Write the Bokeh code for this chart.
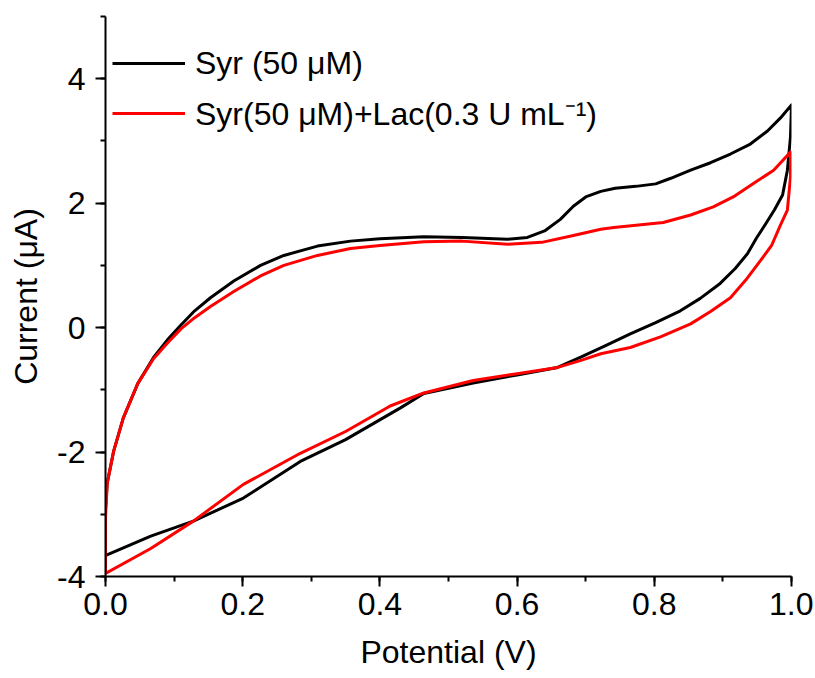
from bokeh.plotting import figure
from bokeh.models import (Range1d, SingleIntervalTicker, NumeralTickFormatter,
                          Legend, LegendItem)
from bokeh.embed import file_html
from bokeh.resources import INLINE

# Syr (50 uM) - forward scan then reverse scan
syr_x = [0.0, 0.0, 0.0025, 0.012, 0.026, 0.047, 0.07, 0.09, 0.109, 0.13, 0.153,
         0.187, 0.226, 0.26, 0.309, 0.357, 0.40, 0.464, 0.52, 0.586, 0.615, 0.641,
         0.663, 0.682, 0.700, 0.722, 0.743, 0.773, 0.802, 0.824, 0.853, 0.882,
         0.911, 0.940, 0.965, 0.984, 1.0,
         0.9985, 0.994, 0.987, 0.975, 0.962, 0.949, 0.936, 0.918, 0.896, 0.867,
         0.838, 0.802, 0.765, 0.729, 0.692, 0.659, 0.60, 0.536, 0.464, 0.43,
         0.35, 0.284, 0.201, 0.128, 0.066, 0.003, 0.0]
syr_y = [-3.65, -2.9, -2.5, -1.98, -1.45, -0.9, -0.48, -0.2, 0.03, 0.27, 0.48,
         0.75, 1.0, 1.16, 1.31, 1.39, 1.43, 1.46, 1.45, 1.42, 1.45, 1.56,
         1.74, 1.95, 2.10, 2.19, 2.24, 2.27, 2.31, 2.40, 2.53, 2.65,
         2.79, 2.95, 3.16, 3.37, 3.58,
         3.06, 2.53, 2.13, 1.89, 1.66, 1.44, 1.19, 0.95, 0.71, 0.47,
         0.27, 0.08, -0.10, -0.29, -0.48, -0.64, -0.76, -0.89, -1.06, -1.29,
         -1.80, -2.15, -2.74, -3.11, -3.35, -3.65, -3.66]

# Syr (50 uM) + Lac (0.3 U/mL)
lac_x = [0.0, 0.0, 0.0025, 0.012, 0.026, 0.047, 0.07, 0.09, 0.11, 0.13, 0.153,
         0.187, 0.226, 0.26, 0.309, 0.357, 0.40, 0.464, 0.52, 0.586, 0.636, 0.682,
         0.722, 0.741, 0.813, 0.853, 0.886, 0.915, 0.945, 0.974, 0.9985,
         0.9985, 0.994, 0.984, 0.971, 0.955, 0.933, 0.911, 0.882, 0.853, 0.809,
         0.765, 0.722, 0.692, 0.659, 0.60, 0.536, 0.464, 0.415, 0.35, 0.284,
         0.201, 0.128, 0.066, 0.0]
lac_y = [-3.95, -3.06, -2.5, -1.98, -1.45, -0.9, -0.5, -0.25, -0.02, 0.16, 0.34,
         0.58, 0.83, 1.0, 1.16, 1.27, 1.32, 1.38, 1.39, 1.34, 1.37, 1.48,
         1.58, 1.61, 1.69, 1.81, 1.94, 2.10, 2.32, 2.53, 2.82,
         2.42, 1.89, 1.65, 1.32, 1.08, 0.76, 0.48, 0.26, 0.06, -0.15,
         -0.32, -0.42, -0.53, -0.64, -0.74, -0.85, -1.05, -1.26, -1.67, -2.02,
         -2.52, -3.11, -3.55, -3.95]

labels = ["Syr (50 \u03bcM)", "Syr(50 \u03bcM)+Lac(0.3 U mL\u207b\u00b9)"]
colors = ["#000000", "#ff0000"]

FONT = "Liberation Sans"
FS = "32px"

p = figure(width=813, height=678, x_range=Range1d(0, 1), y_range=Range1d(-4, 5),
           output_backend="svg", toolbar_location=None,
           min_border_left=105, min_border_right=22, min_border_top=16,
           min_border_bottom=102)
p.outline_line_color = None
p.xgrid.visible = False
p.ygrid.visible = False
p.background_fill_color = "white"
p.border_fill_color = "white"

r1 = p.line(syr_x, syr_y, line_color=colors[0], line_width=3, line_join="round")
r2 = p.line(lac_x, lac_y, line_color=colors[1], line_width=3, line_join="round")

for ax in (p.xaxis[0], p.yaxis[0]):
    ax.axis_line_width = 2
    ax.major_tick_line_width = 2
    ax.minor_tick_line_width = 2
    ax.major_tick_out = 10
    ax.major_tick_in = 0
    ax.minor_tick_out = 5
    ax.minor_tick_in = 0
    ax.major_label_text_font = FONT
    ax.major_label_text_font_size = FS
    ax.major_label_text_color = "black"
    ax.axis_label_text_font = FONT
    ax.axis_label_text_font_size = FS
    ax.axis_label_text_font_style = "normal"
    ax.axis_label_text_color = "black"

p.xaxis.ticker = SingleIntervalTicker(interval=0.2, num_minor_ticks=2)
p.yaxis.ticker = SingleIntervalTicker(interval=2, num_minor_ticks=2)
p.xaxis.formatter = NumeralTickFormatter(format="0.0")
p.yaxis.formatter = NumeralTickFormatter(format="0")
p.xaxis.axis_label = "Potential (V)"
p.yaxis.axis_label = "Current (\u03bcA)"
p.xaxis.major_label_standoff = 6
p.yaxis.major_label_standoff = 10
p.xaxis.axis_label_standoff = 16
p.yaxis.axis_label_standoff = 10

legend = Legend(items=[LegendItem(label=labels[0], renderers=[r1]),
                       LegendItem(label=labels[1], renderers=[r2])],
                location=(7, 442), padding=0, margin=0, spacing=8,
                glyph_width=73, glyph_height=40, label_height=40,
                label_standoff=10, border_line_color=None,
                background_fill_alpha=0,
                label_text_font=FONT, label_text_font_size=FS,
                label_text_color="black")
p.add_layout(legend)

open("out.html", "w").write(file_html(p, INLINE))
